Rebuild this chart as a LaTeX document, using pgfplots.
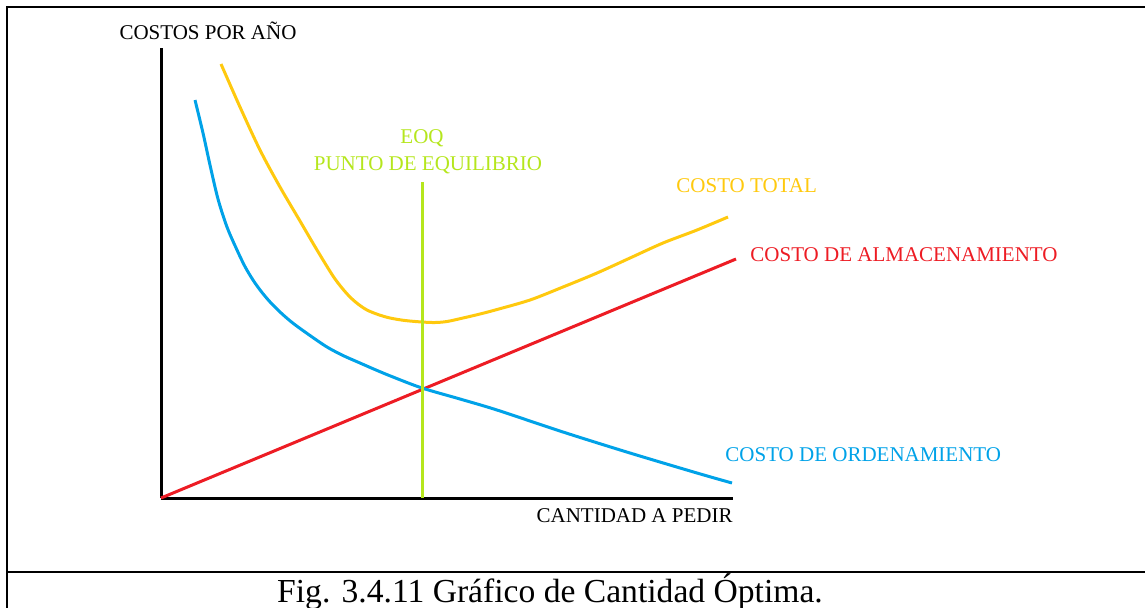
\documentclass[border=0pt]{standalone}
\usepackage{fontspec}
\setmainfont{Liberation Serif}
\usepackage{pgfplots}
\pgfplotsset{compat=1.18}

\definecolor{cblue}{RGB}{0,162,232}
\definecolor{cred}{RGB}{237,28,36}
\definecolor{cyellow}{RGB}{255,201,14}
\definecolor{cgreen}{RGB}{181,230,29}
\tikzset{lbl/.style={inner sep=0pt, font=\fontsize{10.5}{12}\selectfont}}

\begin{document}
\begin{tikzpicture}
% 1 px of the reference = 0.5pt
\useasboundingbox (0,0) rectangle (572.5pt,-303.5pt);
\draw[line width=1.25pt] (3.5pt,-320pt) -- (3.5pt,-3.5pt) -- (600pt,-3.5pt);
\draw[line width=1.25pt] (3.5pt,-286pt) -- (600pt,-286pt);
\node[anchor=base, inner sep=0, font=\fontsize{16.8}{18}\selectfont] at (275pt,-301pt)
  {Fig. 3.4.11 Gráfico de Cantidad Óptima.};

\begin{axis}[
    at={(80.5pt,-249pt)}, anchor=south west,
    scale only axis, width=286pt, height=225pt,
    xmin=0, xmax=572, ymin=0, ymax=450,
    axis x line=bottom, axis y line=left,
    axis line style={-, line width=1.5pt, black},
    xtick=\empty, ytick=\empty,
    clip=false,
]
% costo de almacenamiento
\addplot[cred, line width=1.5pt] coordinates {(0,0)(575,239)};
% costo de ordenamiento
\addplot[cblue, line width=1.5pt, smooth] coordinates {
(34,398)(42,365)(49,333)(57,299)(66,271)(76,248)(84,231.4)(92,218)(100,206.8)
(109,196.1)(120,185.1)(132,174.8)(149,162.5)(166,151)(182,142.5)(199,135)
(215,128)(232,121)(261,110)(299,99)(336,88)(402,66)(469,45)(536,25)(571,15)};
% costo total
\addplot[cyellow, line width=1.5pt, smooth] coordinates {
(60,434)(79,391)(99,348)(119,311)(139,277)(156,248)(172,222)(181,210)(189,201)
(197,194)(206,188)(217,183.5)(229,180)(244,177.5)(261,176)(274,175.5)(286,176.5)
(302,180)(319,184)(336,188.5)(369,198)(402,211)(436,225)(469,240)(502,255)
(536,268)(567,281)};
% EOQ
\addplot[cgreen, line width=1.5pt] coordinates {(261,0)(261,316)};

\node[lbl, anchor=base] at (axis cs:47,459) {COSTOS POR AÑO};
\node[lbl, anchor=base east] at (axis cs:572,-24) {CANTIDAD A PEDIR};
\node[lbl, anchor=base, text=cgreen] at (axis cs:261,355) {EOQ};
\node[lbl, anchor=base, text=cgreen] at (axis cs:267,328) {PUNTO DE EQUILIBRIO};
\node[lbl, anchor=base west, text=cyellow] at (axis cs:515,306) {COSTO TOTAL};
\node[lbl, anchor=base west, text=cred] at (axis cs:589,237) {COSTO DE ALMACENAMIENTO};
\node[lbl, anchor=base west, text=cblue] at (axis cs:564,37) {COSTO DE ORDENAMIENTO};
\end{axis}
\end{tikzpicture}
\end{document}
